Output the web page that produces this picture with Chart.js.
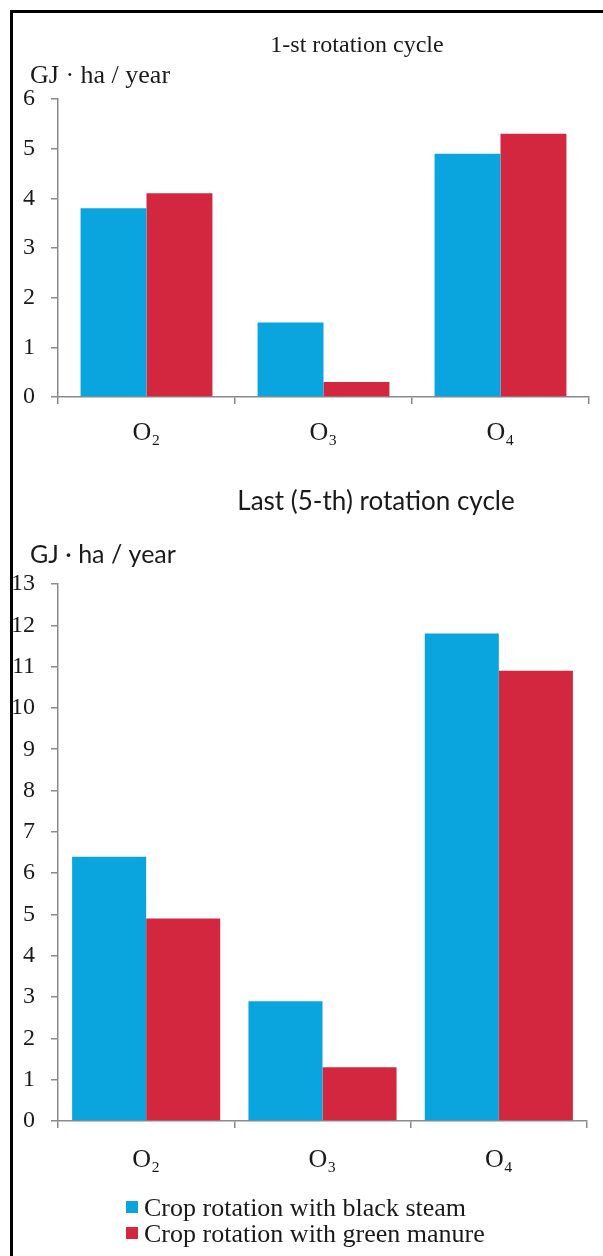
<!DOCTYPE html>
<html>
<head>
<meta charset="utf-8">
<script src="https://cdn.jsdelivr.net/npm/chart.js@4.4.1/dist/chart.umd.min.js"></script>
<style>
  html, body { margin: 0; padding: 0; background: #fff; width: 603px; height: 1256px; overflow: hidden; position: relative; }
  #frame { position: absolute; left: 10px; top: 10px; width: 700px; height: 1400px; border: 3px solid #000; box-sizing: border-box; }
  canvas { position: absolute; left: 0; }
  #first { top: 0; }
  #last { top: 460px; }
</style>
</head>
<body>
<div id="frame"></div>
<canvas id="first" width="603" height="460" style="width:603px;height:460px"></canvas>
<canvas id="last" width="603" height="796" style="width:603px;height:796px"></canvas>
<script>
// categories and series
const categories = ["O₂", "O₃", "O₄"];
const seriesLabels = ["Crop rotation with black steam", "Crop rotation with green manure"];

// 1-st rotation cycle
const firstBlackSteam = [3.8, 1.5, 4.9];
const firstGreenManure = [4.1, 0.3, 5.3];
const firstYMax = 6;

// last (5-th) rotation cycle
const lastBlackSteam = [6.4, 2.9, 11.8];
const lastGreenManure = [4.9, 1.3, 10.9];
const lastYMax = 13;

const blue = "#0aa5df";
const red = "#d3273f";
const axisGray = "#8a8a8a";
const serif = "'Liberation Serif', 'Times New Roman', serif";
const sans = "Lato, 'Open Sans', sans-serif";

// draws the titles, axis caption and (optionally) the legend
const textPlugin = {
  id: "textPlugin",
  afterDraw: (chart, args, opts) => {
    const ctx = chart.ctx;
    ctx.save();
    ctx.fillStyle = "#1a1a1a";
    ctx.textBaseline = "alphabetic";
    (opts.texts || []).forEach(t => {
      ctx.font = t.font;
      ctx.textAlign = t.align || "left";
      ctx.fillText(t.text, t.x, t.y);
    });
    if (opts.legend) {
      const lg = opts.legend;
      ctx.font = lg.font;
      ctx.textAlign = "left";
      chart.data.datasets.forEach((ds, i) => {
        const y = lg.y + i * lg.lineHeight;
        ctx.fillStyle = ds.backgroundColor;
        ctx.fillRect(lg.x, y - lg.box + 1, lg.box, lg.box);
        ctx.fillStyle = "#1a1a1a";
        ctx.fillText(ds.label, lg.x + lg.box + 6, y + 4);
      });
    }
    ctx.restore();
  }
};

function buildChart(id, blackSteam, greenManure, yMax, area, share, labelPad, texts, legend) {
  const canvas = document.getElementById(id);
  const W = canvas.width, H = canvas.height;
  return new Chart(canvas.getContext("2d"), {
    type: "bar",
    data: {
      labels: categories,
      datasets: [
        { label: seriesLabels[0], data: blackSteam, backgroundColor: blue, borderWidth: 0 },
        { label: seriesLabels[1], data: greenManure, backgroundColor: red, borderWidth: 0 }
      ]
    },
    options: {
      responsive: false,
      animation: false,
      datasets: { bar: { categoryPercentage: share, barPercentage: 1 } },
      layout: { padding: { top: area.top, right: W - area.right, left: 0, bottom: 0 } },
      scales: {
        x: {
          offset: true,
          grid: { offset: true, drawOnChartArea: false, tickLength: 7, color: axisGray, lineWidth: 1.5 },
          border: { color: axisGray, width: 1.5 },
          ticks: { font: { family: serif, size: 26 }, color: "#1a1a1a", padding: labelPad },
          afterFit: scale => { scale.height = H - area.bottom; }
        },
        y: {
          min: 0,
          max: yMax,
          ticks: { stepSize: 1, font: { family: serif, size: 24 }, color: "#1a1a1a", padding: 16 },
          grid: { drawOnChartArea: false, tickLength: 7, color: axisGray, lineWidth: 1.5 },
          border: { color: axisGray, width: 1.5 },
          afterFit: scale => { scale.width = area.left; }
        }
      },
      plugins: {
        legend: { display: false },
        tooltip: { enabled: false },
        textPlugin: { texts: texts, legend: legend }
      }
    },
    plugins: [textPlugin]
  });
}

buildChart("first", firstBlackSteam, firstGreenManure, firstYMax,
  { left: 58, right: 589, top: 99, bottom: 397 }, 0.745, 14,
  [
    { text: "1-st rotation cycle", x: 357, y: 52, font: "24px " + serif, align: "center" },
    { text: "GJ · ha / year", x: 30, y: 83, font: "26px " + serif }
  ], null);

buildChart("last", lastBlackSteam, lastGreenManure, lastYMax,
  { left: 58, right: 587, top: 124, bottom: 661 }, 0.84, 17,
  [
    { text: "Last (5-th) rotation cycle", x: 376, y: 50, font: "26px " + sans, align: "center" },
    { text: "GJ · ha / year", x: 30, y: 103, font: "25px " + sans }
  ],
  { x: 126, y: 752, lineHeight: 26, box: 12, font: "26px " + serif });
</script>
</body>
</html>
